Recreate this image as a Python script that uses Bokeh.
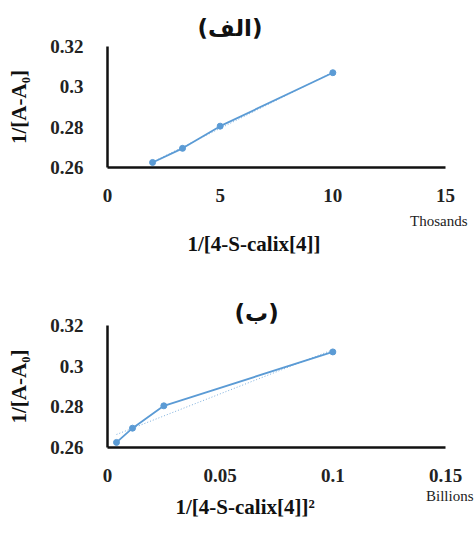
import numpy as np
from bokeh.plotting import figure
from bokeh.layouts import column
from bokeh.models import Range1d, FixedTicker, Title
from bokeh.embed import file_html
from bokeh.resources import INLINE

# ---- data ----
x_top = [2.0, 3.33, 5.0, 10.0]            # 1/[4-S-calix[4]]  (thousands)
x_bot = [0.004, 0.0111, 0.025, 0.1]       # 1/[4-S-calix[4]]^2 (billions)
y_vals = [0.2625, 0.2695, 0.2805, 0.307]  # 1/[A-A0]
y_ticks = [0.26, 0.28, 0.3, 0.32]
y_tick_labels = ["0.26", "0.28", "0.3", "0.32"]
x_ticks_top = [0, 5, 10, 15]
x_tick_labels_top = ["0", "5", "10", "15"]
x_ticks_bot = [0, 0.05, 0.1, 0.15]
x_tick_labels_bot = ["0", "0.05", "0.1", "0.15"]
titles = ["(الف)", "(ب)"]
x_titles = ["1/[4-S-calix[4]]", "1/[4-S-calix[4]]²"]
y_title = "1/[A-A₀]"
units = ["Thosands", "Billions"]

BLUE = "#5b9bd5"
SERIF = "'Liberation Serif', 'Times New Roman', serif"
W = 474


def make_panel(xs, ys, xmax, xticks, xlabels, title, xtitle, unit, h,
               b_left, b_right, b_top, b_bottom,
               title_off, title_standoff, unit_off, unit_standoff,
               xt_off, xt_standoff):
    p = figure(width=W, height=h, output_backend="svg", toolbar_location=None,
               x_range=Range1d(0, xmax), y_range=Range1d(0.26, 0.32),
               min_border_left=b_left, min_border_right=b_right,
               min_border_top=b_top, min_border_bottom=b_bottom)
    p.outline_line_color = None
    p.grid.grid_line_color = None
    p.background_fill_color = "white"
    for ax in (p.xaxis[0], p.yaxis[0]):
        ax.axis_line_width = 2.5
        ax.axis_line_color = "#111111"
        ax.major_tick_line_color = None
        ax.minor_tick_line_color = None
        ax.major_tick_out = 0
        ax.major_tick_in = 0
        ax.major_label_text_font = SERIF
        ax.major_label_text_font_style = "bold"
        ax.major_label_text_font_size = "19px"
        ax.major_label_text_color = "#222222"
        ax.axis_label_text_font = SERIF
        ax.axis_label_text_font_style = "bold"
        ax.axis_label_text_font_size = "21px"
        ax.axis_label_text_color = "#111111"
    p.xaxis.ticker = FixedTicker(ticks=xticks)
    p.xaxis.major_label_overrides = {t: l for t, l in zip(xticks, xlabels)}
    p.yaxis.ticker = FixedTicker(ticks=y_ticks)
    p.yaxis.major_label_overrides = {t: l for t, l in zip(y_ticks, y_tick_labels)}
    p.xaxis.major_label_standoff = 21
    p.yaxis.major_label_standoff = 24
    p.yaxis.axis_label = y_title
    p.yaxis.axis_label_standoff = 16

    # chart title (Arabic)
    p.title = Title(text=title, align="left", offset=title_off, standoff=title_standoff,
                    text_font="DejaVu Sans", text_font_style="bold",
                    text_font_size="23px", text_color="#111111")
    # unit note and x-axis title below the axis
    p.add_layout(Title(text=unit, align="right", offset=unit_off, standoff=unit_standoff,
                       text_font=SERIF, text_font_style="normal",
                       text_font_size="15px", text_color="#222222"), "below")
    p.add_layout(Title(text=xtitle, align="left", offset=xt_off, standoff=xt_standoff,
                       text_font=SERIF, text_font_style="bold",
                       text_font_size="21px", text_color="#111111"), "below")

    # linear trendline (dotted)
    k, b = np.polyfit(xs, ys, 1)
    tx = [xs[0], xs[-1]]
    p.line(tx, [k * v + b for v in tx], line_color=BLUE, line_width=1,
           line_dash="1 2", line_alpha=0.8)
    p.line(xs, ys, line_color=BLUE, line_width=1.8)
    p.scatter(xs, ys, size=6, fill_color=BLUE, line_color=BLUE)
    return p


p1 = make_panel(x_top, y_vals, 15, x_ticks_top, x_tick_labels_top, titles[0],
                x_titles[0], units[0], 270, 104, W - 451, 46, 103,
                90, 12, -22, 13, 80, -11)
p2 = make_panel(x_bot, y_vals, 0.15, x_ticks_bot, x_tick_labels_bot, titles[1],
                x_titles[1], units[1], 262, 107, W - 445, 55, 85,
                127, 0, -28, 2, 68, -23)

layout = column(p1, p2, spacing=0)
open("out.html", "w").write(file_html(layout, INLINE))
